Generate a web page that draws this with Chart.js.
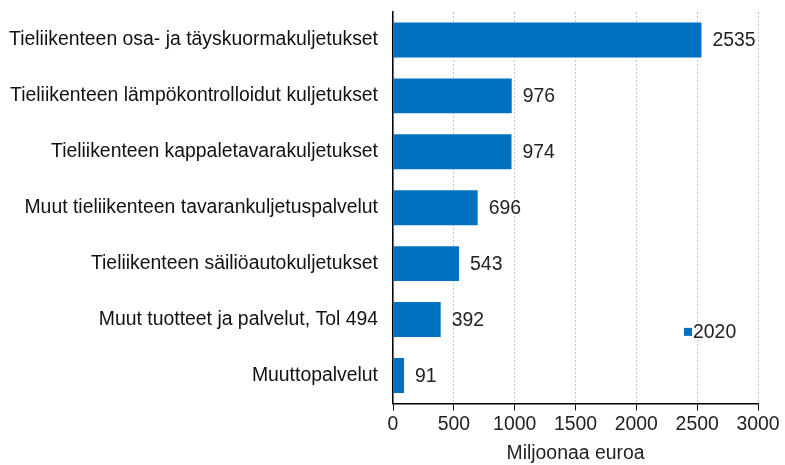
<!DOCTYPE html>
<html>
<head>
<meta charset="utf-8">
<script src="https://cdn.jsdelivr.net/npm/chart.js@4"></script>
<style>
html,body{margin:0;padding:0;background:#fff;}
#wrap{width:785px;height:465px;}
</style>
</head>
<body>
<div id="wrap"><canvas id="c" width="785" height="465"></canvas></div>
<script>
const categories = [
  "Tieliikenteen osa- ja täyskuormakuljetukset",
  "Tieliikenteen lämpökontrolloidut kuljetukset",
  "Tieliikenteen kappaletavarakuljetukset",
  "Muut tieliikenteen tavarankuljetuspalvelut",
  "Tieliikenteen säiliöautokuljetukset",
  "Muut tuotteet ja palvelut, Tol 494",
  "Muuttopalvelut"
];
const values2020 = [2535, 976, 974, 696, 543, 392, 91];
const seriesName = "2020";
const xTicks = [0, 500, 1000, 1500, 2000, 2500, 3000];
const xTitle = "Miljoonaa euroa";

const FONT = "'Liberation Sans', Arial, sans-serif";
const FS = 19.4;
const BLUE = "#0070C0";

const labelPlugin = {
  id: 'vals',
  afterDatasetsDraw(chart) {
    const ctx = chart.ctx;
    const meta = chart.getDatasetMeta(0);
    ctx.save();
    ctx.font = FS + "px " + FONT;
    ctx.fillStyle = "#222";
    ctx.textAlign = "left";
    ctx.textBaseline = "middle";
    meta.data.forEach((bar, i) => {
      ctx.fillText(String(values2020[i]), bar.x + 11, bar.y + 1);
    });
    const ds = chart.data.datasets[0];
    const xs = chart.scales.x, ys = chart.scales.y;
    const lx = xs.getPixelForValue(2425);
    const ly = ys.getPixelForValue(5.22);
    ctx.fillStyle = ds.backgroundColor;
    ctx.fillRect(lx - 4, ly - 4, 8, 8);
    ctx.fillStyle = "#222";
    ctx.fillText(ds.label, lx + 5, ly + 1);
    ctx.restore();
  }
};

new Chart(document.getElementById('c'), {
  type: 'bar',
  data: {
    labels: categories,
    datasets: [{
      label: seriesName,
      data: values2020,
      backgroundColor: BLUE,
      borderWidth: 0,
      categoryPercentage: 1,
      barPercentage: 0.625
    }]
  },
  options: {
    indexAxis: 'y',
    responsive: false,
    animation: false,
    layout: { padding: { top: 12, right: 27, left: 0, bottom: 0 } },
    plugins: { legend: { display: false }, tooltip: { enabled: false } },
    scales: {
      x: {
        min: 0, max: 3000,
        afterBuildTicks(scale) { scale.ticks = xTicks.map(v => ({ value: v })); },
        ticks: { font: { size: FS, family: FONT }, color: "#222", padding: 3, maxRotation: 0,
                 callback: (v) => String(v) },
        grid: {
          color: "#c4c4c4",
          lineWidth: 1,
          tickLength: 7,
          tickColor: "#000",
          drawTicks: true
        },
        border: { display: true, color: "#000", width: 1.5, dash: [2, 2] },
        title: { display: true, text: xTitle, font: { size: FS, family: FONT }, color: "#222", padding: { top: 2, bottom: 0 } }
      },
      y: {
        afterFit(scale) { scale.width = 393; scale.paddingTop = 0; scale.paddingBottom = 0; },
        ticks: { font: { size: FS, family: FONT }, color: "#111", padding: 15 },
        grid: { display: false, drawTicks: false },
        border: { display: true, color: "#000", width: 1.5 }
      }
    }
  },
  plugins: [labelPlugin]
});
</script>
</body>
</html>
